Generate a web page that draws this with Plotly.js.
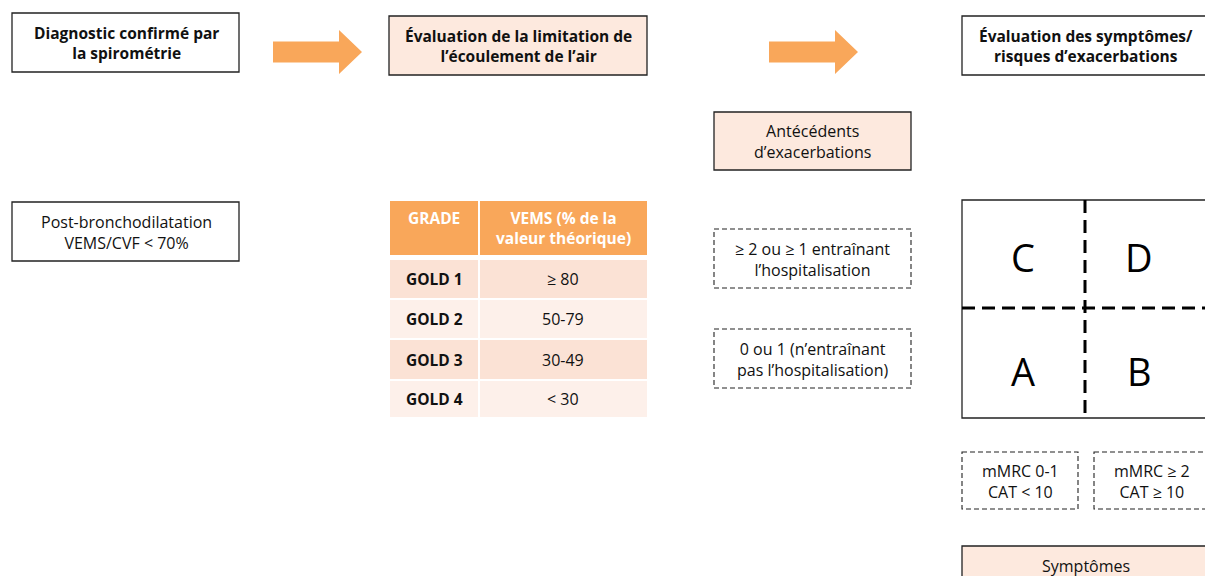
<!DOCTYPE html>
<html>
<head>
<meta charset="utf-8">
<script src="https://cdn.plot.ly/plotly-3.0.1.min.js"></script>
<style>html,body{margin:0;padding:0;background:#fff;}#chart{width:1205px;height:576px;}</style>
</head>
<body>
<div id="chart"></div>
<script>
// ---- content (text data) ----
const stepTitles = ["Diagnostic confirmé par<br>la spirométrie", "Évaluation de la limitation de<br>l’écoulement de l’air", "Évaluation des symptômes/<br>risques d’exacerbations"];
const spiroCriterion = "Post-bronchodilatation<br>VEMS/CVF < 70%";
const gradeHeader = ["GRADE", "VEMS (% de la<br>valeur théorique)"];
const grades = ["GOLD 1", "GOLD 2", "GOLD 3", "GOLD 4"];
const vems = ["≥ 80", "50-79", "30-49", "< 30"];
const exacTitle = "Antécédents<br>d’exacerbations";
const exacLevels = ["≥ 2 ou ≥ 1 entraînant<br>l’hospitalisation", "0 ou 1 (n’entraînant<br>pas l’hospitalisation)"];
const groupsTop = ["C", "D"];
const groupsBottom = ["A", "B"];
const symptomLevels = ["mMRC 0-1<br>CAT < 10", "mMRC ≥ 2<br>CAT ≥ 10"];
const symptomTitle = "Symptômes";

// ---- layout geometry (pixel coordinates) ----
const ORANGE = "#f9a75a", PEACH = "#fde9de", ROW_A = "#fbe2d5", ROW_B = "#fdf0ea", EDGE = "#222222";
const FONT = "'Open Sans', 'Noto Sans', sans-serif";
const FB = 15.5, FN = 16;
const shapes = [], ann = [];

function rect(x0, y0, x1, y1, fill, line) {
  shapes.push({type: "rect", xref: "x", yref: "y", x0, y0, x1, y1, fillcolor: fill || "rgba(0,0,0,0)",
    line: line || {width: 0}, layer: "below"});
}
function text(x, y, t, size, bold, color) {
  ann.push({xref: "x", yref: "y", x, y, text: bold ? "<b>" + t + "</b>" : t, showarrow: false,
    font: {family: FONT, size: size, color: color || "#111"}, align: "center", xanchor: "center", yanchor: "middle"});
}
function arrow(x0, x1, xh, yc) {
  const b = 10.5, h = 22;
  shapes.push({type: "path", xref: "x", yref: "y",
    path: `M ${x0},${yc - b} L ${xh},${yc - b} L ${xh},${yc - h} L ${x1},${yc} L ${xh},${yc + h} L ${xh},${yc + b} L ${x0},${yc + b} Z`,
    fillcolor: ORANGE, line: {width: 0}});
}
const solid = {color: EDGE, width: 1.3};
const dashed = {color: EDGE, width: 1.1, dash: "5px,3px"};

// Step boxes
rect(12, 13, 239, 72, "#ffffff", solid); text(126, 43, stepTitles[0], FB, true);
arrow(273, 362, 339, 52);
rect(389, 16, 647, 75, PEACH, solid); text(518, 46, stepTitles[1], FB, true);
arrow(769, 858, 835, 52);
rect(962, 16, 1230, 75, "#ffffff", solid); text(1086, 46, stepTitles[2], FB, true);

// Spirometry criterion
rect(12, 202, 239, 261, "#ffffff", solid); text(126, 232, spiroCriterion, FN, false);

// Grades table
rect(390, 201, 478, 255, ORANGE); rect(480, 201, 647, 255, ORANGE);
text(434, 218, gradeHeader[0], FB, true, "#ffffff");
text(563, 228, gradeHeader[1], FB, true, "#ffffff");
const rowY = [[260, 298], [300, 338], [340, 379], [381, 417]];
grades.forEach((g, i) => {
  const [y0, y1] = rowY[i];
  const fill = i % 2 === 0 ? ROW_A : ROW_B;
  rect(390, y0, 478, y1, fill); rect(480, y0, 647, y1, fill);
  text(434, (y0 + y1) / 2, g, FB, true);
  text(563, (y0 + y1) / 2, vems[i], FN, false);
});

// Exacerbation history
rect(714, 112, 911, 170, PEACH, solid); text(812, 141, exacTitle, FN, false);
rect(714, 229, 911, 288, "#ffffff", dashed); text(812, 259, exacLevels[0], FN, false);
rect(714, 329, 911, 388, "#ffffff", dashed); text(812, 359, exacLevels[1], FN, false);

// ABCD grid
rect(962, 200, 1230, 418, "#ffffff", solid);
shapes.push({type: "line", xref: "x", yref: "y", x0: 1085, x1: 1085, y0: 200, y1: 420, line: {color: "#000", width: 3, dash: "13px,7px"}});
shapes.push({type: "line", xref: "x", yref: "y", x0: 962, x1: 1230, y0: 308, y1: 308, line: {color: "#000", width: 3, dash: "13px,7px"}});
text(1023, 257, groupsTop[0], 38, false, "#000");
text(1139, 257, groupsTop[1], 38, false, "#000");
text(1023, 371, groupsBottom[0], 38, false, "#000");
text(1139, 371, groupsBottom[1], 38, false, "#000");

// Symptom levels
rect(962, 452, 1078, 509, "#ffffff", dashed); text(1020, 481, symptomLevels[0], FN, false);
rect(1094, 452, 1230, 509, "#ffffff", dashed); text(1152, 481, symptomLevels[1], FN, false);
rect(962, 546, 1230, 600, PEACH, solid); text(1086, 566, symptomTitle, FN, false);

const layout = {
  width: 1205, height: 576, margin: {l: 0, r: 0, t: 0, b: 0},
  paper_bgcolor: "#ffffff", plot_bgcolor: "#ffffff", showlegend: false,
  xaxis: {range: [0, 1205], visible: false, fixedrange: true},
  yaxis: {range: [576, 0], visible: false, fixedrange: true},
  shapes: shapes, annotations: ann
};
Plotly.newPlot("chart", [{x: [], y: [], type: "scatter", mode: "markers", hoverinfo: "skip"}], layout, {staticPlot: true, displayModeBar: false});
</script>
</body>
</html>
